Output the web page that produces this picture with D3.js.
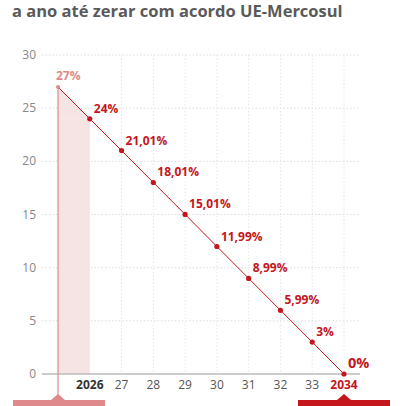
<!DOCTYPE html>
<html>
<head>
<meta charset="UTF-8">
<script src="https://cdn.jsdelivr.net/npm/d3@7"></script>
<style>
  body { margin: 0; background: #fff; }
  svg * { font-family: 'Open Sans', 'Noto Sans', sans-serif; }
</style>
</head>
<body>
<svg id="chart" width="406" height="406"></svg>
<script>
var years = [2025, 2026, 2027, 2028, 2029, 2030, 2031, 2032, 2033, 2034];
var rates = [27, 24, 21.01, 18.01, 15.01, 11.99, 8.99, 5.99, 3, 0];
var rateLabels = ["27%", "24%", "21,01%", "18,01%", "15,01%", "11,99%", "8,99%", "5,99%", "3%", "0%"];
var tickLabels = ["", "2026", "27", "28", "29", "30", "31", "32", "33", "2034"];
var yTicks = [0, 5, 10, 15, 20, 25, 30];

var red = "#c4161c", pink = "#e0898a";
var svg = d3.select("#chart");
var x = d3.scaleLinear().domain([2025, 2034]).range([58, 344]);
var y = d3.scaleLinear().domain([0, 30]).range([374, 55]);

svg.append("text").attr("x", 12).attr("y", 17)
  .attr("fill", "#5a5a5a").attr("font-size", 16.5).attr("font-weight", 700)
  .text("a ano até zerar com acordo UE-Mercosul");

// grid
svg.selectAll(".hg").data(yTicks.slice(1)).join("line")
  .attr("x1", 42).attr("x2", 360).attr("y1", d => y(d)).attr("y2", d => y(d))
  .attr("stroke", "#ddd").attr("stroke-dasharray", "1.5,2");
svg.selectAll(".vg").data(years.slice(2)).join("line")
  .attr("x1", d => x(d)).attr("x2", d => x(d)).attr("y1", y(30)).attr("y2", y(0))
  .attr("stroke", "#e6e6e6").attr("stroke-dasharray", "1.5,2");
svg.selectAll(".yl").data(yTicks).join("text")
  .attr("x", 36).attr("y", d => y(d) + 4).attr("text-anchor", "end")
  .attr("fill", "#888").attr("font-size", 12).text(d => d);

// shaded first year
svg.append("rect").attr("x", x(2025)).attr("width", x(2026) - x(2025))
  .attr("y", y(24)).attr("height", y(0) - y(24)).attr("fill", "#f6e3e3");
svg.append("path")
  .attr("d", `M${x(2025)},${y(27)}L${x(2026)},${y(24)}L${x(2025)},${y(24)}Z`)
  .attr("fill", "#f6e3e3");

svg.append("line").attr("x1", 42).attr("x2", 360).attr("y1", y(0)).attr("y2", y(0))
  .attr("stroke", "#bbb").attr("stroke-width", 1.5);
svg.append("line").attr("x1", x(2025)).attr("x2", x(2025)).attr("y1", y(27)).attr("y2", 400)
  .attr("stroke", pink).attr("stroke-width", 1.2);

svg.append("path").datum(years.map((d, i) => [d, rates[i]]))
  .attr("d", d3.line().x(d => x(d[0])).y(d => y(d[1])))
  .attr("fill", "none").attr("stroke", red).attr("stroke-width", 1);
svg.selectAll(".dot").data(years).join("circle")
  .attr("cx", d => x(d)).attr("cy", (d, i) => y(rates[i])).attr("r", (d, i) => i == 0 ? 2 : 2.6)
  .attr("fill", (d, i) => i == 0 ? pink : red);
svg.selectAll(".lab").data(years).join("text")
  .attr("x", (d, i) => i == 0 ? x(d) - 2 : x(d) + 4)
  .attr("y", (d, i) => i == 0 ? y(rates[i]) - 7 : y(rates[i]) - 6)
  .attr("fill", (d, i) => i == 0 ? pink : red).attr("font-weight", 700)
  .attr("font-size", (d, i) => i == 9 ? 14.5 : 12).text((d, i) => rateLabels[i]);

svg.selectAll(".xl").data(years).join("text")
  .attr("x", d => x(d)).attr("y", 389).attr("text-anchor", "middle")
  .attr("font-size", 12).attr("font-weight", (d, i) => (i == 1 || i == 9) ? 700 : 400)
  .attr("fill", (d, i) => i == 9 ? red : (i == 1 ? "#333" : "#555"))
  .text((d, i) => tickLabels[i]);

// bottom tabs
svg.append("rect").attr("x", 13).attr("y", 400).attr("width", 92).attr("height", 10).attr("fill", pink);
svg.append("path").attr("d", `M${x(2025) - 7},400L${x(2025)},394L${x(2025) + 7},400Z`).attr("fill", pink);
svg.append("rect").attr("x", 298).attr("y", 400).attr("width", 92).attr("height", 10).attr("fill", red);
svg.append("path").attr("d", `M${x(2034) - 7},400L${x(2034)},394L${x(2034) + 7},400Z`).attr("fill", red);
</script>
</body>
</html>
